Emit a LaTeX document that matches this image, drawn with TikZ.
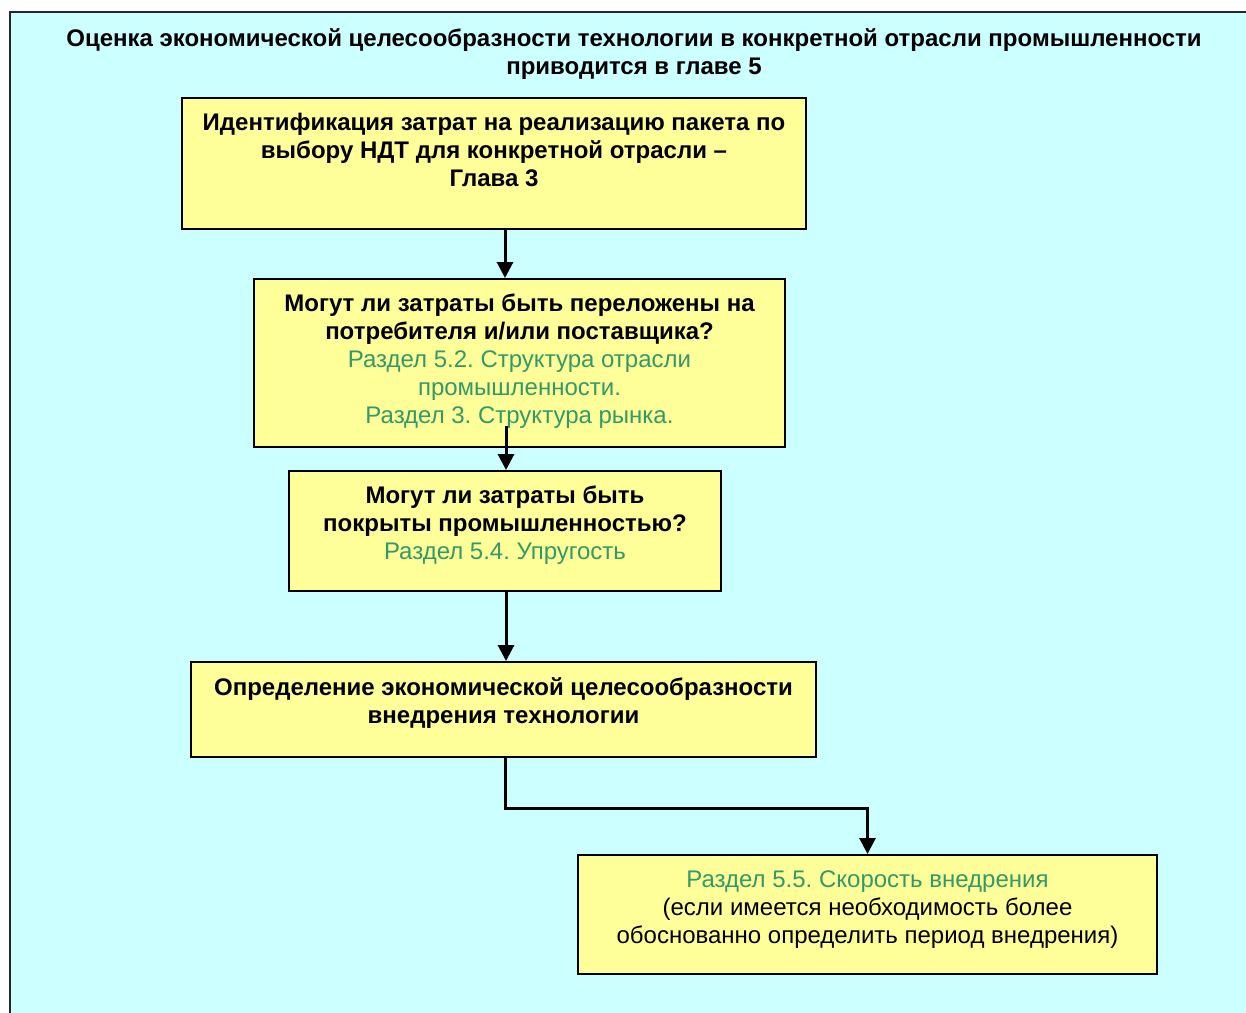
\documentclass[tikz,border=0pt]{standalone}
\usepackage{fontspec}
\setmainfont{Liberation Sans}
\usetikzlibrary{positioning,arrows.meta,calc}
\definecolor{bgcyan}{HTML}{CCFFFF}
\definecolor{blkyellow}{HTML}{FFFF99}
\definecolor{secgreen}{HTML}{339966}
\newcommand\razd[1]{{\mdseries\color{secgreen}#1}}
\newcommand\plain[1]{{\mdseries #1}}
\frenchspacing
\tikzset{
  blk/.style={rectangle,draw=black,fill=blkyellow,line width=1pt,inner sep=0pt},
  txt/.style={align=center,inner sep=0pt,font=\fontsize{12}{14}\selectfont\bfseries},
  arr/.style={-{Triangle[length=8pt,width=8pt]},line width=1.5pt},
}
\begin{document}
\begin{tikzpicture}[x=0.5pt,y=-0.5pt]
  \useasboundingbox (0,0) rectangle (1246,1012);
  \fill[bgcyan] (10,12) rectangle (1270,1040);
  \draw[line width=1pt,black!85] (10,12) rectangle (1270,1040);
  \node[txt,anchor=north] (title) at (634,28) {Оценка экономической целесообразности технологии в конкретной отрасли промышленности\\приводится в главе 5};
  % blocks
  \node[blk,minimum width=312pt,minimum height=65.5pt] (b1) at (494,163.5) {};
  \node[blk,minimum width=265.5pt,minimum height=84pt] (b2) at (519.5,363) {};
  \node[blk,minimum width=216pt,minimum height=60pt] (b3) at (505,531) {};
  \node[blk,minimum width=312.5pt,minimum height=47.5pt] (b4) at (503.5,709.5) {};
  \node[blk,minimum width=289.5pt,minimum height=59.5pt] (b5) at (867.5,914.5) {};
  % texts
  \node[txt,below=8pt of b1.north] (t1) {Идентификация затрат на реализацию пакета по\\выбору НДТ для конкретной отрасли –\\Глава 3};
  \node[txt,below=7.5pt of b2.north] (t2) {Могут ли затраты быть переложены на\\потребителя и/или поставщика?\\\razd{Раздел 5.2. Структура отрасли}\\\razd{промышленности.}\\\razd{Раздел 3. Структура рынка.}};
  \node[txt,below=7.5pt of b3.north] (t3) {Могут ли затраты быть\\покрыты промышленностью?\\\razd{Раздел 5.4. Упругость}};
  \node[txt,below=8pt of b4.north] (t4) {Определение экономической целесообразности\\внедрения технологии};
  \node[txt,below=8pt of b5.north] (t5) {\razd{Раздел 5.5. Скорость внедрения}\\\plain{(если имеется необходимость более}\\\plain{обоснованно определить период внедрения)}};
  % arrows
  \coordinate (s2) at ($(b2.south -| b3)+(1,-22)$);
  \coordinate (knee) at (700,808);
  \draw[arr] (b1.south -| b3) -- (b2.north -| b3);
  \draw[arr] (s2) -- (b3.north -| s2);
  \draw[arr] (b3.south -| s2) -- (b4.north -| s2);
  \draw[arr] (b4.south -| b3) |- (knee) -| (b5.north);
\end{tikzpicture}
\end{document}
